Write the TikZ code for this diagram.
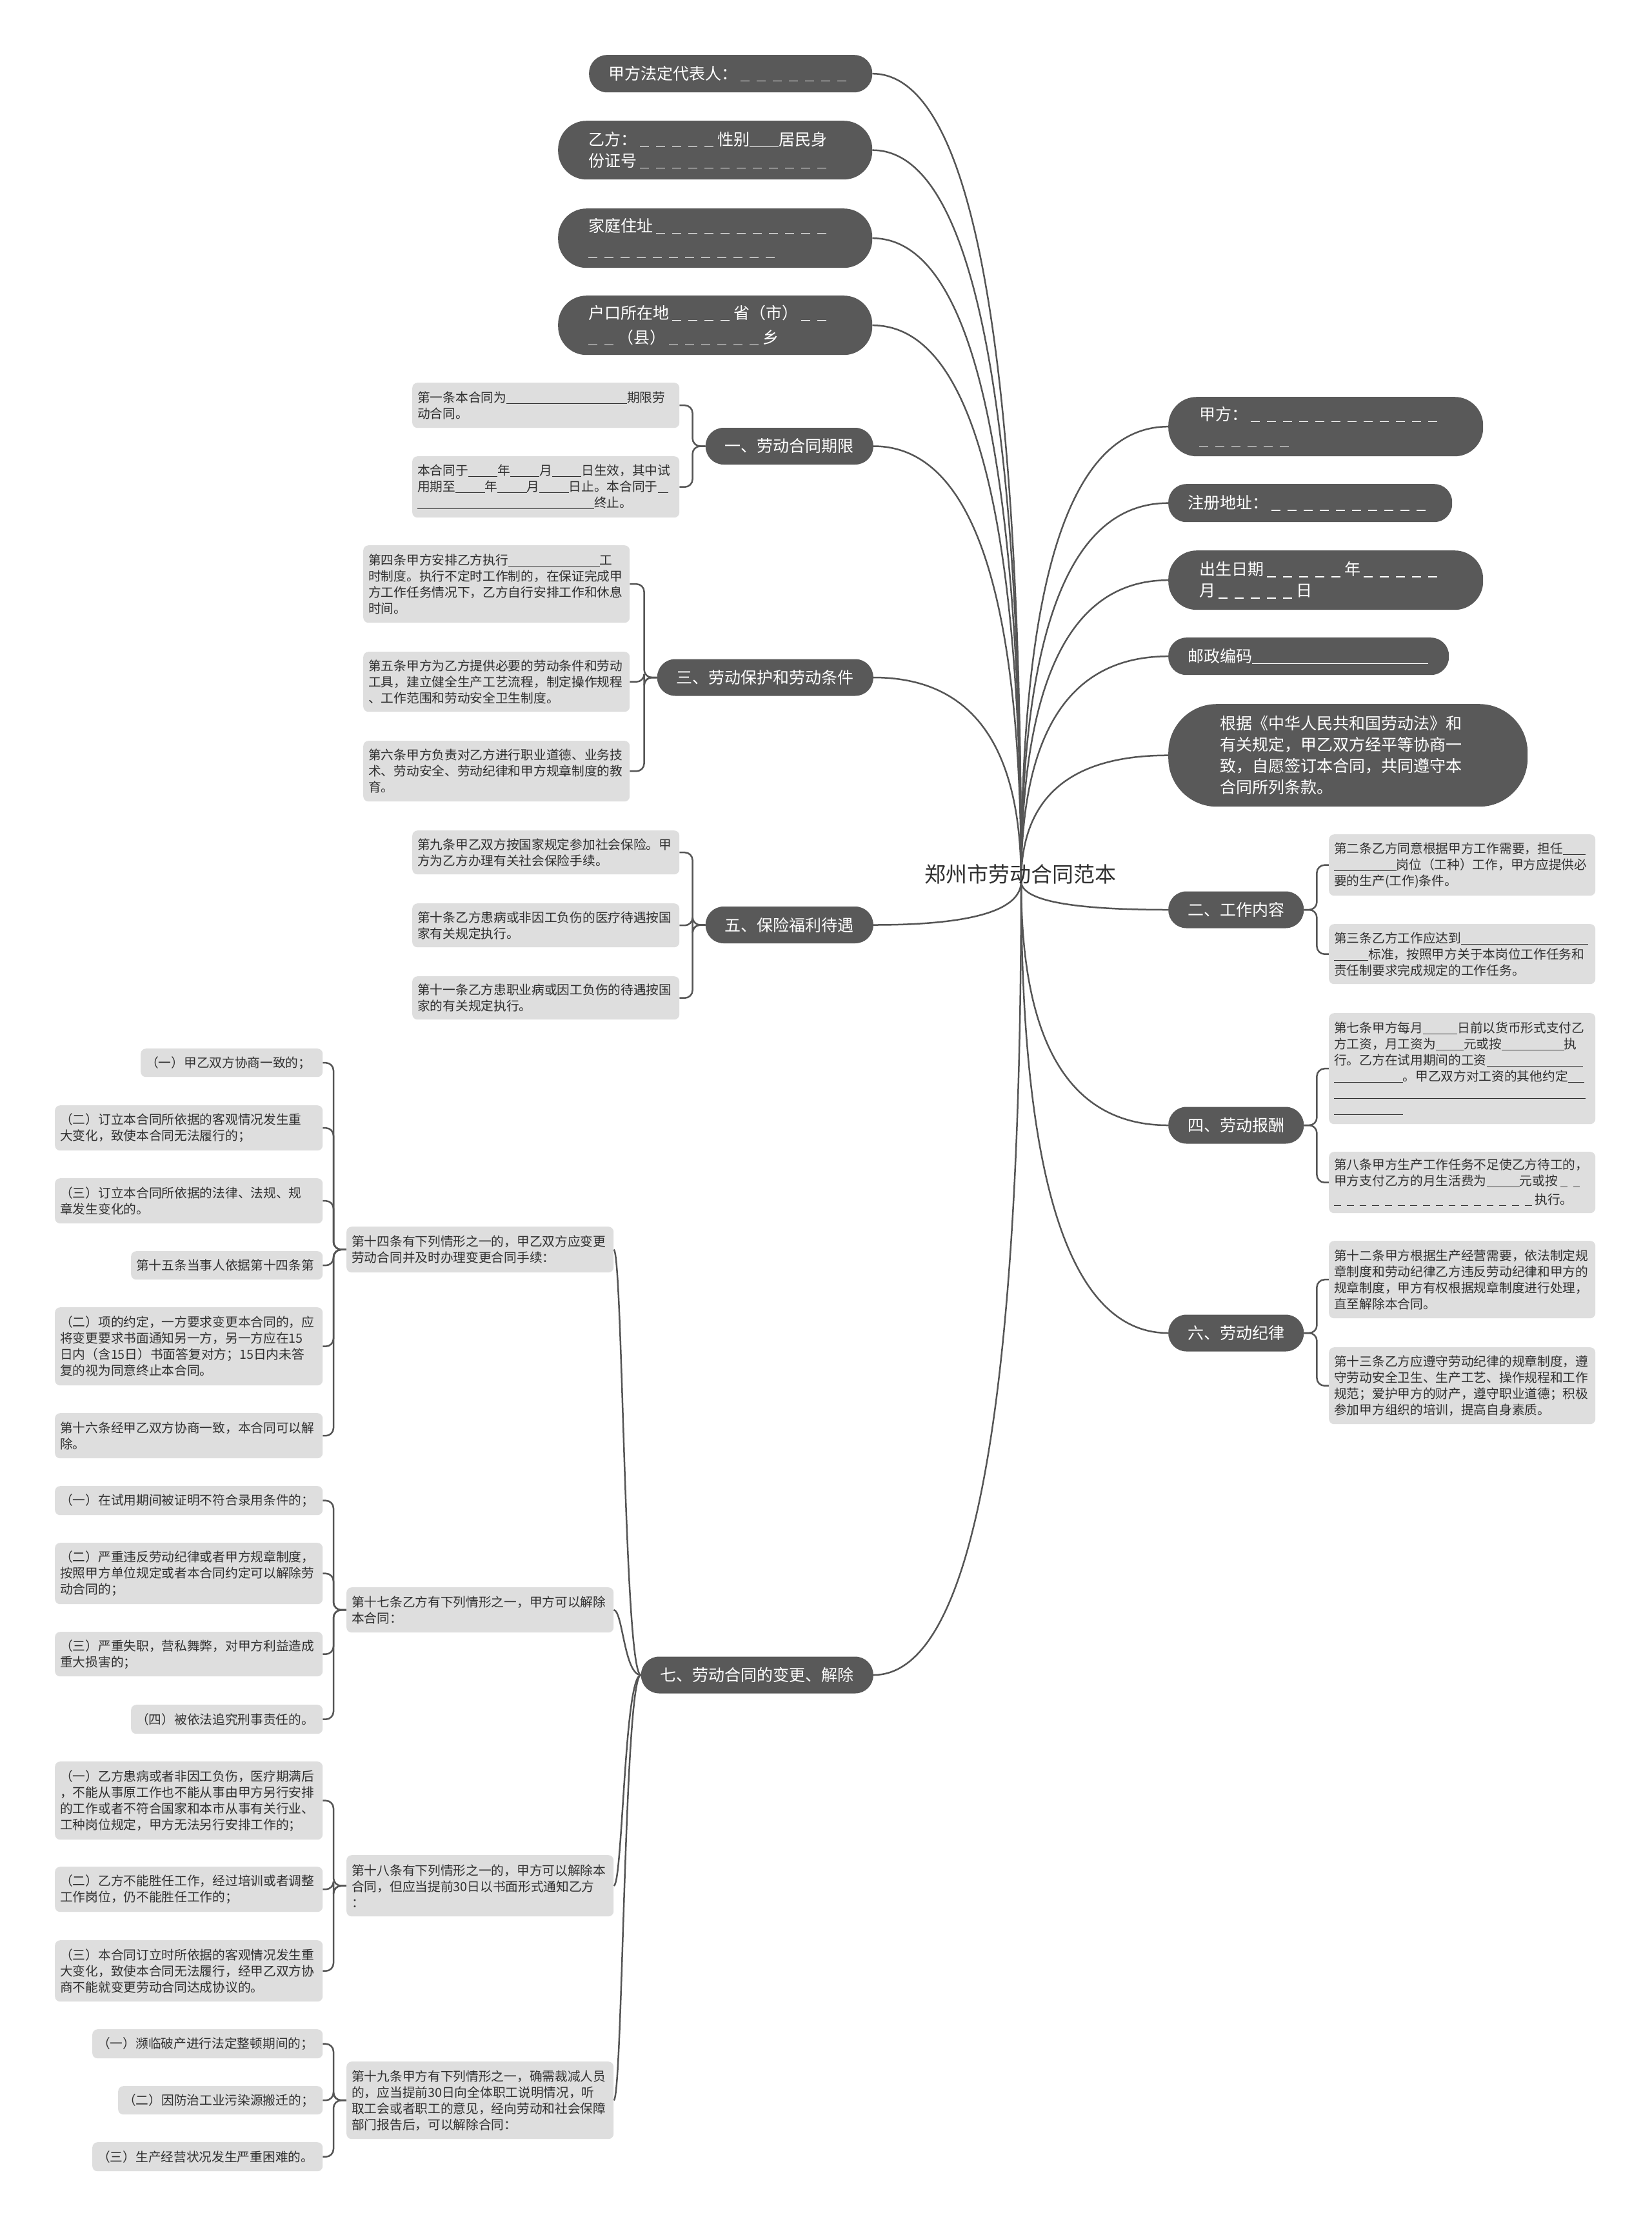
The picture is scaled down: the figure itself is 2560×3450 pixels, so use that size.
\documentclass[tikz,border=0pt]{standalone}
\usepackage{fontspec}
\setmainfont{Noto Sans CJK SC}
\usetikzlibrary{calc,backgrounds}
\definecolor{dk}{HTML}{595959}
\definecolor{lt}{HTML}{DEDEDE}
\definecolor{ln}{HTML}{555555}
\definecolor{tx}{HTML}{303030}
\newcommand\dsh{\kern0.2em\rule[-0.12em]{0.55em}{0.06em}\kern0.25em}
\newcommand\blank[1]{\rule[-0.12em]{#1em}{0.05em}}
\newcommand\ddsh[1]{\ifnum#1>0 \dsh\expandafter\ddsh\expandafter{\the\numexpr#1-1\relax}\fi}
\tikzset{
  dark/.style={fill=dk, text=white, font=\fontsize{25}{33}\selectfont, inner ysep=0pt, align=left},
  dtitle/.style={fill=dk, text=white, font=\fontsize{25}{33}\selectfont, inner ysep=0pt, inner xsep=30pt, minimum height=57pt, rounded corners=28pt},
  leaf/.style={fill=lt, text=tx, font=\fontsize{19.7}{25}\selectfont, inner xsep=8pt, inner ysep=0pt, rounded corners=8pt, align=left, anchor=north west},
  main/.style={draw=ln, line width=2.5pt},
  br/.style={draw=ln, line width=2.5pt, rounded corners=12pt},
}
\newcommand\dbox[8]{\node[dark, anchor=north west, text width=#4pt, inner xsep=#5pt, minimum height=#6pt, rounded corners=#7pt] (#1) at (#2,#3) {#8};}
\newcommand\lbox[6]{\node[leaf, text width=#4pt, minimum height=#5pt] (#1) at (#2,#3) {#6};}
\newcommand\mcurve[1]{\draw[main] (R) .. controls ($(R)!0.667!(R|-#1)$) and ($(#1)!0.667!(R|-#1)$) .. (#1);}
\newcommand\scurve[1]{\draw[main] (n7.west) .. controls ($(n7.west)+(-26,0)$) and ($(#1)+(14,0)$) .. (#1);}
\begin{document}
\begin{tikzpicture}[x=1pt,y=-1pt]
\useasboundingbox (0,0) rectangle (2560,3450);
% root
\coordinate (R) at (1583,1366);
\node[font=\fontsize{33}{36}\selectfont, text=tx] (root) at (1582,1355) {郑州市劳动合同范本};
% top-left dark nodes
\dbox{tl1}{913}{85}{379}{30}{58}{28}{甲方法定代表人：\ddsh{7}}
\dbox{tl2}{865}{187}{393}{47}{91}{44}{乙方：\ddsh{5}性别\blank{1.8}居民身\\份证号\ddsh{12}}
\dbox{tl3}{865}{323}{393}{47}{92}{44}{家庭住址\ddsh{11}\\\ddsh{12}}
\dbox{tl4}{865}{458}{393}{47}{92}{44}{户口所在地\ddsh{4}省（市）\ddsh{2}\\\ddsh{2}（县）\ddsh{6}乡}
% right dark nodes
\dbox{r1}{1811}{615}{392}{48}{92}{44}{甲方：\ddsh{12}\\\ddsh{6}}
\dbox{r2}{1811}{750}{380}{30}{59}{28}{注册地址：\ddsh{10}}
\dbox{r3}{1811}{853}{392}{48}{92}{44}{出生日期\ddsh{5}年\ddsh{5}\\月\ddsh{5}日}
\dbox{r4}{1811}{988}{375}{30}{58}{28}{邮政编码\blank{10.9}}
\dbox{r5}{1811}{1091}{397}{80}{159}{75}{根据《中华人民共和国劳动法》和\\有关规定，甲乙双方经平等协商一\\致，自愿签订本合同，共同遵守本\\合同所列条款。}
% branch titles
\node[dtitle, anchor=east] (n1) at (1354,691.5) {一、劳动合同期限};
\node[dtitle, anchor=east] (n3) at (1354,1050) {三、劳动保护和劳动条件};
\node[dtitle, anchor=east] (n5) at (1354,1433.5) {五、保险福利待遇};
\node[dtitle, anchor=east] (n7) at (1354,2596) {七、劳动合同的变更、解除};
\node[dtitle, anchor=west] (n2) at (1811,1410) {二、工作内容};
\node[dtitle, anchor=west] (n4) at (1811,1744) {四、劳动报酬};
\node[dtitle, anchor=west] (n6) at (1811,2066) {六、劳动纪律};
% leaves of 一
\lbox{a1}{639}{593}{398}{70}{第一条本合同为\blank{9.5}期限劳\\动合同。}
\lbox{a2}{639}{707}{398}{95}{本合同于\blank{2.3}年\blank{2.3}月\blank{2.3}日生效，其中试\\用期至\blank{2.3}年\blank{2.3}月\blank{2.3}日止。本合同于\blank{0.85}\\\blank{13.9}终止。}
% leaves of 三
\lbox{c1}{563}{845}{397}{120}{第四条甲方安排乙方执行\blank{7.2}工\\时制度。执行不定时工作制的，在保证完成甲\\方工作任务情况下，乙方自行安排工作和休息\\时间。}
\lbox{c2}{563}{1010}{397}{93}{第五条甲方为乙方提供必要的劳动条件和劳动\\工具，建立健全生产工艺流程，制定操作规程\\、工作范围和劳动安全卫生制度。}
\lbox{c3}{563}{1148}{397}{94}{第六条甲方负责对乙方进行职业道德、业务技\\术、劳动安全、劳动纪律和甲方规章制度的教\\育。}
% leaves of 五
\lbox{e1}{639}{1287}{398}{68}{第九条甲乙双方按国家规定参加社会保险。甲\\方为乙方办理有关社会保险手续。}
\lbox{e2}{639}{1400}{398}{68}{第十条乙方患病或非因工负伤的医疗待遇按国\\家有关规定执行。}
\lbox{e3}{639}{1513}{398}{67}{第十一条乙方患职业病或因工负伤的待遇按国\\家的有关规定执行。}
% leaves of 二
\lbox{b1}{2060}{1293}{397}{95}{第二条乙方同意根据甲方工作需要，担任\blank{1.8}\\\blank{4.9}岗位（工种）工作，甲方应提供必\\要的生产(工作)条件。}
\lbox{b2}{2060}{1432}{397}{93}{第三条乙方工作应达到\blank{10}\\\blank{2.7}标准，按照甲方关于本岗位工作任务和\\责任制要求完成规定的工作任务。}
% leaves of 四
\lbox{d1}{2060}{1570}{397}{172}{第七条甲方每月\blank{2.7}日前以货币形式支付乙\\方工资，月工资为\blank{2.2}元或按\blank{4.9}执\\行。乙方在试用期间的工资\blank{7.6}\\\blank{5.4}。甲乙双方对工资的其他约定\blank{1.3}\\\blank{19.8}\\\blank{5.4}}
\lbox{d2}{2060}{1785}{397}{95}{第八条甲方生产工作任务不足使乙方待工的，\\甲方支付乙方的月生活费为\blank{2.6}元或按\ddsh{2}\\\ddsh{16}执行。}
% leaves of 六
\lbox{f1}{2060}{1923}{397}{120}{第十二条甲方根据生产经营需要，依法制定规\\章制度和劳动纪律乙方违反劳动纪律和甲方的\\规章制度，甲方有权根据规章制度进行处理，\\直至解除本合同。}
\lbox{f2}{2060}{2088}{397}{119}{第十三条乙方应遵守劳动纪律的规章制度，遵\\守劳动安全卫生、生产工艺、操作规程和工作\\规范；爱护甲方的财产，遵守职业道德；积极\\参加甲方组织的培训，提高自身素质。}
% level 2 of 七
\lbox{g14}{537}{1901}{398}{71}{第十四条有下列情形之一的，甲乙双方应变更\\劳动合同并及时办理变更合同手续：}
\lbox{g17}{537}{2460}{398}{70}{第十七条乙方有下列情形之一，甲方可以解除\\本合同：}
\lbox{g18}{537}{2875}{398}{95}{第十八条有下列情形之一的，甲方可以解除本\\合同，但应当提前30日以书面形式通知乙方\\：}
\lbox{g19}{537}{3195}{398}{120}{第十九条甲方有下列情形之一，确需裁减人员\\的，应当提前30日向全体职工说明情况，听\\取工会或者职工的意见，经向劳动和社会保障\\部门报告后，可以解除合同：}
% leaves of 十四
\lbox{h1}{218}{1625}{266}{44}{（一）甲乙双方协商一致的；}
\lbox{h2}{85}{1713}{399}{70}{（二）订立本合同所依据的客观情况发生重\\大变化，致使本合同无法履行的；}
\lbox{h3}{85}{1826}{399}{70}{（三）订立本合同所依据的法律、法规、规\\章发生变化的。}
\lbox{h4}{203}{1939}{281}{44}{第十五条当事人依据第十四条第}
\lbox{h5}{85}{2026}{399}{121}{（二）项的约定，一方要求变更本合同的，应\\将变更要求书面通知另一方，另一方应在15\\日内（含15日）书面答复对方；15日内未答\\复的视为同意终止本合同。}
\lbox{h6}{85}{2190}{399}{70}{第十六条经甲乙双方协商一致，本合同可以解\\除。}
% leaves of 十七
\lbox{i1}{85}{2303}{399}{45}{（一）在试用期间被证明不符合录用条件的；}
\lbox{i2}{85}{2391}{399}{95}{（二）严重违反劳动纪律或者甲方规章制度，\\按照甲方单位规定或者本合同约定可以解除劳\\动合同的；}
\lbox{i3}{85}{2529}{399}{69}{（三）严重失职，营私舞弊，对甲方利益造成\\重大损害的；}
\lbox{i4}{203}{2642}{281}{45}{（四）被依法追究刑事责任的。}
% leaves of 十八
\lbox{j1}{85}{2730}{399}{121}{（一）乙方患病或者非因工负伤，医疗期满后\\，不能从事原工作也不能从事由甲方另行安排\\的工作或者不符合国家和本市从事有关行业、\\工种岗位规定，甲方无法另行安排工作的；}
\lbox{j2}{85}{2893}{399}{70}{（二）乙方不能胜任工作，经过培训或者调整\\工作岗位，仍不能胜任工作的；}
\lbox{j3}{85}{3007}{399}{95}{（三）本合同订立时所依据的客观情况发生重\\大变化，致使本合同无法履行，经甲乙双方协\\商不能就变更劳动合同达成协议的。}
% leaves of 十九
\lbox{k1}{143}{3145}{341}{45}{（一）濒临破产进行法定整顿期间的；}
\lbox{k2}{183}{3233}{301}{44}{（二）因防治工业污染源搬迁的；}
\lbox{k3}{143}{3320}{341}{45}{（三）生产经营状况发生严重困难的。}
\begin{pgfonlayer}{background}
\fill[white] (0,0) rectangle (2560,3450);
% main curves
\mcurve{tl1.east}\mcurve{tl2.east}\mcurve{tl3.east}\mcurve{tl4.east}
\mcurve{n1.east}\mcurve{n3.east}\mcurve{n5.east}\mcurve{n7.east}
\mcurve{r1.west}\mcurve{r2.west}\mcurve{r3.west}\mcurve{r4.west}\mcurve{r5.west}
\mcurve{n2.west}\mcurve{n4.west}\mcurve{n6.west}
% brackets
\foreach \c in {a1,a2} {\draw[br] (n1.west) -- ++(-20,0) |- (\c.east);}
\foreach \c in {c1,c2,c3} {\draw[br] (n3.west) -- ++(-20,0) |- (\c.east);}
\foreach \c in {e1,e2,e3} {\draw[br] (n5.west) -- ++(-20,0) |- (\c.east);}
\foreach \c in {b1,b2} {\draw[br] (n2.east) -- ++(20,0) |- (\c.west);}
\foreach \c in {d1,d2} {\draw[br] (n4.east) -- ++(20,0) |- (\c.west);}
\foreach \c in {f1,f2} {\draw[br] (n6.east) -- ++(20,0) |- (\c.west);}
\scurve{g14.east}\scurve{g17.east}\scurve{g18.east}\scurve{g19.east}
\foreach \c in {h1,h2,h3,h4,h5,h6} {\draw[br] (g14.west) -- ++(-20,0) |- (\c.east);}
\foreach \c in {i1,i2,i3,i4} {\draw[br] (g17.west) -- ++(-20,0) |- (\c.east);}
\foreach \c in {j1,j2,j3} {\draw[br] (g18.west) -- ++(-20,0) |- (\c.east);}
\foreach \c in {k1,k2,k3} {\draw[br] (g19.west) -- ++(-20,0) |- (\c.east);}
\end{pgfonlayer}
\end{tikzpicture}
\end{document}
